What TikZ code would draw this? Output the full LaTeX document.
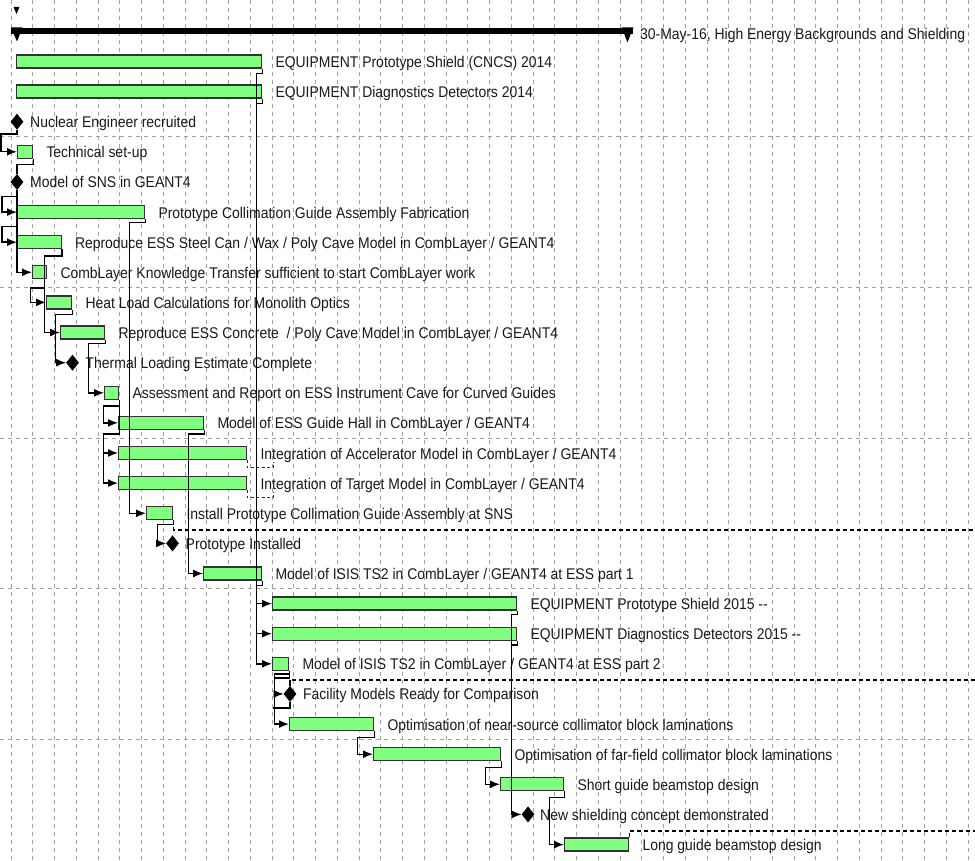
\documentclass[tikz,border=0pt]{standalone}
\usepackage{fontspec}
\setmainfont{Liberation Sans}[FakeStretch=0.9]
\usetikzlibrary{arrows.meta,shapes.geometric,calc}
\definecolor{barfill}{RGB}{128,255,128}
\definecolor{gridgray}{RGB}{160,160,160}
\begin{document}
\begin{tikzpicture}[x=1pt,y=-1pt,
  gbar/.style={rectangle, draw=black!80, line width=1.3pt, fill=barfill, minimum height=13pt, inner sep=0pt, anchor=west},
  mstone/.style={diamond, fill=black, draw=black, line width=0.8pt, minimum width=12pt, minimum height=15pt, inner sep=0pt},
  lbl/.style={anchor=base west, inner sep=0pt, text=black!90, font=\fontsize{15.5pt}{17pt}\selectfont},
  link/.style={draw=black, line width=1.4pt},
  arr/.style={link, -{Latex[length=10pt,width=8pt]}},
  dashlink/.style={draw=black, line width=1.6pt, dash pattern=on 4pt off 3pt},
  slack/.style={draw=black!85, line width=1.2pt, dash pattern=on 3pt off 2.5pt},
  gridline/.style={draw=gridgray, line width=0.8pt, dash pattern=on 4pt off 4pt},
  sumbar/.style={rectangle, fill=black, minimum width=622pt, minimum height=6pt, inner sep=0pt, anchor=north west},
]
\useasboundingbox (0,0) rectangle (975,861);
% grid
\foreach \k in {0,...,44} \draw[gridline] ({11+21.75*\k},0) -- ({11+21.75*\k},861);
\foreach \yy in {136.8,287.4,438,588.5,739.1} \draw[gridline] (0,\yy) -- (975,\yy);

% summary
\fill (13.5,7) -- (19.5,7) -- (16.5,14) -- cycle;
\node[sumbar] (sum) at (11,27.5) {};
\fill (sum.north west) -- ++(11.5,0) -- ++(-5.5,14) -- cycle;
\fill (sum.north east) -- ++(-11.5,0) -- ++(5.5,15) -- cycle;
\node[lbl] (tsum) at (640,40) {30-May-16, High Energy Backgrounds and Shielding};

% bars
\node[gbar, minimum width=245pt] (b1) at (16,61.5) {};
\node[gbar, minimum width=245pt] (b2) at (16,91.6) {};
\node[mstone] (M3) at (17,121.7) {};
\node[gbar, minimum width=15pt] (b4) at (17,151.8) {};
\node[mstone] (M5) at (17,182.0) {};
\node[gbar, minimum width=127pt] (b6) at (17,212.1) {};
\node[gbar, minimum width=43.5pt] (b7) at (17,242.2) {};
\node[gbar, minimum width=14pt] (b8) at (32,272.3) {};
\node[gbar, minimum width=25pt] (b9) at (46,302.4) {};
\node[gbar, minimum width=44pt] (b10) at (60,332.5) {};
\node[mstone] (M11) at (72.5,362.7) {};
\node[gbar, minimum width=14pt] (b12) at (104,392.8) {};
\node[gbar, minimum width=85pt] (b13) at (118,422.9) {};
\node[gbar, minimum width=128pt] (b14) at (118,453.0) {};
\node[gbar, minimum width=128pt] (b15) at (118,483.1) {};
\node[gbar, minimum width=26pt] (b16) at (146,513.3) {};
\node[mstone] (M17) at (172.5,543.4) {};
\node[gbar, minimum width=58pt] (b18) at (203,573.5) {};
\node[gbar, minimum width=244pt] (b19) at (272,603.6) {};
\node[gbar, minimum width=244pt] (b20) at (272,633.7) {};
\node[gbar, minimum width=16pt] (b21) at (272,663.8) {};
\node[mstone] (M22) at (290,693.9) {};
\node[gbar, minimum width=84pt] (b23) at (289,724.1) {};
\node[gbar, minimum width=127pt] (b24) at (373,754.2) {};
\node[gbar, minimum width=63pt] (b25) at (500,784.3) {};
\node[mstone] (M26) at (528,814.4) {};
\node[gbar, minimum width=64pt] (b27) at (564,844.6) {};

% labels
\node[lbl] (t1) at ([xshift=13pt,yshift=-6pt]b1.east) {EQUIPMENT Prototype Shield (CNCS) 2014};
\node[lbl] (t2) at ([xshift=13pt,yshift=-6pt]b2.east) {EQUIPMENT Diagnostics Detectors 2014};
\node[lbl] (t3) at ([xshift=13pt,yshift=-6pt]M3.center) {Nuclear Engineer recruited};
\node[lbl] (t4) at ([xshift=13pt,yshift=-6pt]b4.east) {Technical set-up};
\node[lbl] (t5) at ([xshift=13pt,yshift=-6pt]M5.center) {Model of SNS in GEANT4};
\node[lbl] (t6) at ([xshift=13pt,yshift=-6pt]b6.east) {Prototype Collimation Guide Assembly Fabrication};
\node[lbl] (t7) at ([xshift=13pt,yshift=-6pt]b7.east) {Reproduce ESS Steel Can / Wax / Poly Cave Model in CombLayer / GEANT4};
\node[lbl] (t8) at ([xshift=13pt,yshift=-6pt]b8.east) {CombLayer Knowledge Transfer sufficient to start CombLayer work};
\node[lbl] (t9) at ([xshift=13pt,yshift=-6pt]b9.east) {Heat Load Calculations for Monolith Optics};
\node[lbl] (t10) at ([xshift=13pt,yshift=-6pt]b10.east) {Reproduce ESS Concrete~ / Poly Cave Model in CombLayer / GEANT4};
\node[lbl] (t11) at ([xshift=13pt,yshift=-6pt]M11.center) {Thermal Loading Estimate Complete};
\node[lbl] (t12) at ([xshift=13pt,yshift=-6pt]b12.east) {Assessment and Report on ESS Instrument Cave for Curved Guides};
\node[lbl] (t13) at ([xshift=13pt,yshift=-6pt]b13.east) {Model of ESS Guide Hall in CombLayer / GEANT4};
\node[lbl] (t14) at ([xshift=13pt,yshift=-6pt]b14.east) {Integration of Accelerator Model in CombLayer / GEANT4};
\node[lbl] (t15) at ([xshift=13pt,yshift=-6pt]b15.east) {Integration of Target Model in CombLayer / GEANT4};
\node[lbl] (t16) at ([xshift=13pt,yshift=-6pt]b16.east) {Install Prototype Collimation Guide Assembly at SNS};
\node[lbl] (t17) at ([xshift=13pt,yshift=-6pt]M17.center) {Prototype Installed};
\node[lbl] (t18) at ([xshift=13pt,yshift=-6pt]b18.east) {Model of ISIS TS2 in CombLayer / GEANT4 at ESS part 1};
\node[lbl] (t19) at ([xshift=13pt,yshift=-6pt]b19.east) {EQUIPMENT Prototype Shield 2015 -{}-};
\node[lbl] (t20) at ([xshift=13pt,yshift=-6pt]b20.east) {EQUIPMENT Diagnostics Detectors 2015 -{}-};
\node[lbl] (t21) at ([xshift=13pt,yshift=-6pt]b21.east) {Model of ISIS TS2 in CombLayer / GEANT4 at ESS part 2};
\node[lbl] (t22) at ([xshift=13pt,yshift=-6pt]M22.center) {Facility Models Ready for Comparison};
\node[lbl] (t23) at ([xshift=13pt,yshift=-6pt]b23.east) {Optimisation of near-source collimator block laminations};
\node[lbl] (t24) at ([xshift=13pt,yshift=-6pt]b24.east) {Optimisation of far-field collimator block laminations};
\node[lbl] (t25) at ([xshift=13pt,yshift=-6pt]b25.east) {Short guide beamstop design};
\node[lbl] (t26) at ([xshift=12pt,yshift=-6pt]M26.center) {New shielding concept demonstrated};
\node[lbl] (t27) at ([xshift=13pt,yshift=-6pt]b27.east) {Long guide beamstop design};

% links
\draw[arr] (M3.south) -- ++(0,4.5) -- ++(-16,0) |- (b4.west);
\draw[link] (b4.south east) -- ++(0,5.5) -| (M5.north);
\draw[arr] (M5.south) -- ++(0,6.5) -- ++(-15,0) |- (b6.west);
\draw[arr] (M5.south) -- ++(0,36.5) -- ++(-15,0) |- (b7.west);
\draw[arr] (M5.south) |- (b8.west);
\draw[arr] (b6.south east) -- ++(0,3.5) -- ++(-16,0) |- (b16.west);
\draw[arr] (b7.south east) -- ++(0,6.5) -- ++(-17.5,0) |- (b10.west);
\draw[arr] (b7.south east) -- ++(0,6.5) -- ++(-17.5,0) -- ++(0,32) -- ++(-14,0) |- (b9.west);
\draw[arr] (b9.south east) -- ++(0,5) -- ++(-17,0) |- (M11.west);
\draw[arr] (b10.south east) -- ++(0,4) -- ++(-17,0) |- (b12.west);
\draw[arr] (b12.south east) -- ++(0,6) -- ++(-16,0) |- (b13.west);
\draw[arr] (b12.south east) -- ++(0,34) -- ++(-16,0) |- (b14.west);
\draw[arr] (b12.south east) -- ++(0,34) -- ++(-16,0) |- (b15.west);
\draw[arr] (b13.south east) -- ++(0,4) -- ++(-16,0) |- (b18.west);
\draw[arr] (b16.south east) -- ++(0,4) -- ++(-16,0) |- (M17.west);
\draw[arr] (b1.south east) -- ++(0,5) -- ++(-6,0) |- (b19.west);
\draw[arr] (b1.south east) -- ++(0,5) -- ++(-6,0) |- (b20.west);
\draw[arr] (b1.south east) -- ++(0,5) -- ++(-6,0) |- (b21.west);
\draw[link] (b2.south east) -- ++(0,5) -- ++(-6,0);
\draw[link] (b18.south east) -- ++(0,5) -- ++(-6,0);
\draw[arr] (b19.south east) -- ++(0,4) -- ++(-6,0) |- (M26.west);
\draw[link] (b20.south east) -- ++(0,4) -- ++(-6,0);
\draw[arr] (b21.south east) -- ++(0,7) -- ++(-15,0) |- (M22.west);
\draw[arr] (b21.south east) -- ++(0,3) -- ++(-15,0) |- (b23.west);
\draw[link] (M22.south) -- ++(0,6) -- ++(-17,0);
\draw[arr] (b23.south east) -- ++(0,6) -- ++(-17,0) |- (b24.west);
\draw[arr] (b24.south east) -- ++(0,6) -- ++(-16,0) |- (b25.west);
\draw[arr] (b25.south east) -- ++(0,6) -- ++(-15,0) |- (b27.west);

% dashed links
\coordinate (e16) at (975,530);
\draw[dashlink] (b16.south east) |- (e16);
\coordinate (e22) at (975,680);
\draw[dashlink] (e22) -- (e22 -| M22.north);
\draw[link] (e22 -| M22.north) -- (M22.north);
\coordinate (e27) at (975,831);
\draw[dashlink] (b27.north east) |- (e27);
\draw[slack] (b14.south east) -- ++(0,7.5) -- ++(26,0) -- ++(0,-6);
\draw[slack] (b15.south east) -- ++(0,7.5) -- ++(26,0) -- ++(0,-6);
\end{tikzpicture}
\end{document}
